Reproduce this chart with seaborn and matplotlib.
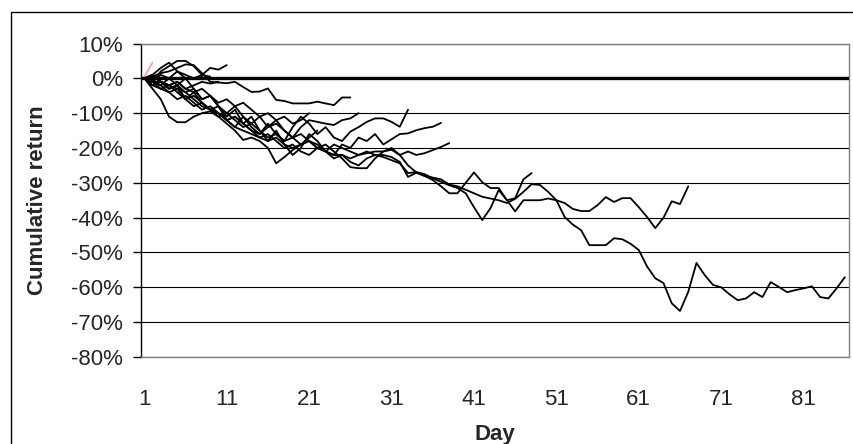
import pandas as pd
import matplotlib
matplotlib.use("Agg")
from matplotlib import pyplot as plt
from matplotlib.patches import Rectangle
from matplotlib.ticker import FuncFormatter
import seaborn as sns

# cumulative return (%) per event, one value per day starting at day 1
ret_a = [0, -1, 2, 3.5, 5, 5, 3.5, 1, 3, 2.5, 3.8]
ret_s1 = [0, -1, 1, 0, 2, 1, 0, 1, 0.5]
ret_s2 = [0, 1, -1, -2, -1, -3, -2, -1, -1.5, -1]
ret_s3 = [0, 1, 3, 4.5, 2, 0, 0, 0.5]
ret_b = [0, 0.5, 1.5, 2, 3, 4, 3.8, 1.5, -1, -1.2, -1.4, -1, -2.5, -3.9, -3.8,
         -2.9, -6.2, -6.5, -7.2, -7.2, -7.2, -6.7, -7.2, -7.7, -5.5, -5.5]
ret_i = [0, -1, -2, 0, -2, -4, -3, -6, -5, -8, -10, -8, -11, -13, -11, -14, -12,
         -15, -17, -14, -12, -12.5, -13, -13.4, -12, -11.5, -10]
ret_k = [0, -3, -6, -11, -12.6, -12.6, -11, -10, -9.5, -11, -13, -15, -17.7, -17,
         -18, -20, -24.4, -22.6, -20.6, -19, -17, -15]
ret_m = [0, 0.5, -1, -2, -1, -3, -4, -3, -5, -7, -6, -8, -7, -9, -11, -10, -12,
         -11, -13, -12, -10]
ret_c = [0, -2, -1, -3, -2, -6, -4, -7, -9, -8, -12, -14, -11, -14, -16, -13, -16,
         -18, -14, -11, -13, -16, -14, -17, -18, -15.3, -14, -12.5, -11.5, -11.5,
         -12.5, -13.9, -9]
ret_d = [0, 1, -1, -3, -2, 0, -3, -6, -5, -8, -11, -9, -13, -11, -15, -18, -15, -19,
         -22, -20, -16, -18, -21, -22, -19, -20, -17, -18, -16, -19, -17.5, -16,
         -15.8, -14.9, -14.3, -13.9, -12.8]
ret_e = [0, -2, -3, -4, -6, -5, -7, -9, -8, -10, -12, -11, -13, -15, -16, -14, -13,
         -15, -17, -16, -18, -20, -19, -21, -23, -25.5, -25.8, -25.8, -23, -21, -20,
         -22, -21, -22, -21.5, -20.6, -19.7, -18.6]
ret_f = [0, -1, -2, -4, -3, -6, -8, -7, -9, -11, -10, -12, -14, -13, -15, -17, -16,
         -18, -17, -19, -18, -20, -21, -19, -20, -21, -22, -21, -22, -22, -22.6, -24,
         -28.3, -27.1, -28, -29.2, -31, -33, -33, -30, -27, -29.8, -31.5, -31.5, -35,
         -34.4, -29, -27.2]
ret_g = [0, -1, -3, -2, -4, -6, -5, -7, -9, -10, -12, -11, -13, -15, -17, -16, -18,
         -20, -19, -21, -22, -20, -21, -23, -22, -24, -25, -23, -22, -22.6, -23.5,
         -24.4, -27.2, -26.9, -27.5, -28.7, -29.7, -30.7, -31.5, -33, -37, -40.7,
         -37.3, -32.1, -35, -38.2, -35, -35, -35, -34.5, -35, -35.8, -37.5, -38.1,
         -38.1, -36.4, -34.1, -35.5, -34.4, -34.4, -37, -39.8, -43, -40, -35.3,
         -36.1, -31]
ret_h = [0, -1, -1, -2, -3, -4, -6, -8, -9, -10, -12, -14, -15, -16, -17, -18, -17,
         -19, -20, -19, -18, -19, -21, -22, -22, -23, -22, -21.5, -21, -21, -20.5,
         -22, -25, -27, -28, -28.5, -29, -30.5, -31, -32, -33, -34, -34.5, -35,
         -35.8, -34.6, -32.6, -30.4, -30.6, -32.6, -35, -39.8, -42, -43.6, -47.9,
         -47.9, -47.9, -45.9, -46.2, -47.5, -49.3, -54, -57.4, -58.8, -64.6, -66.8,
         -61.3, -53, -56.5, -59.3, -60, -62, -63.7, -63.2, -61.4, -62.8, -58.5,
         -59.9, -61.4, -60.8, -60.3, -59.7, -62.8, -63.2, -60.3, -57.1]
ret_pink = [0.5, 4.5]

series = {"a": ret_a, "s1": ret_s1, "s2": ret_s2, "s3": ret_s3, "b": ret_b,
          "i": ret_i, "k": ret_k, "m": ret_m, "c": ret_c, "d": ret_d, "e": ret_e,
          "f": ret_f, "g": ret_g, "h": ret_h}

y_ticks = [10, 0, -10, -20, -30, -40, -50, -60, -70, -80]
x_ticks = [1, 11, 21, 31, 41, 51, 61, 71, 81]

rows = []
for name, vals in series.items():
    for day, v in enumerate(vals, start=1):
        rows.append({"event": name, "day": day, "ret": v})
df = pd.DataFrame(rows)
df_pink = pd.DataFrame({"day": range(1, len(ret_pink) + 1), "ret": ret_pink})

sns.set_style("white")
plt.rcParams["font.family"] = ["Liberation Sans", "DejaVu Sans"]
plt.rcParams["axes.unicode_minus"] = False

fig, ax = plt.subplots(figsize=(8.54, 4.44), dpi=100)
fig.subplots_adjust(left=0.1651, right=0.9941, top=0.902, bottom=0.196)

ax.yaxis.grid(True, color="black", lw=0.8)
ax.set_axisbelow(True)
ax.axhline(0, color="black", lw=2.4, zorder=3)

sns.lineplot(data=df_pink, x="day", y="ret", color="#ff99cc", lw=1.3, ax=ax)
sns.lineplot(data=df, x="day", y="ret", units="event", estimator=None,
             color="black", lw=1.3, ax=ax)

ax.set_xlim(0.6, 86.5)
ax.set_ylim(-80, 10)
ax.set_yticks(y_ticks)
ax.yaxis.set_major_formatter(FuncFormatter(lambda v, p: f"{v:.0f}%"))
ax.set_xticks(x_ticks)
ax.set_xticklabels([str(t) for t in x_ticks])

ax.tick_params(axis="y", direction="out", length=6, width=1, color="black",
               pad=7, labelsize=16, left=True)
ax.tick_params(axis="x", length=0, pad=23, labelsize=16)

for side in ["top", "right", "bottom"]:
    ax.spines[side].set_color("#808080")
    ax.spines[side].set_linewidth(1)
ax.spines["left"].set_color("black")
ax.spines["left"].set_linewidth(1)

ax.set_xlabel("Day", fontsize=16, fontweight="bold")
ax.set_ylabel("Cumulative return", fontsize=16, fontweight="bold")
ax.xaxis.label.set_va("center")
ax.yaxis.label.set_va("center")
ax.xaxis.set_label_coords(0.5, -0.246)
ax.yaxis.set_label_coords(-0.1455, 0.5)

# outer chart frame, right and bottom edges fall outside the image
fig.patches.append(Rectangle((11 / 854, -0.05), 1.1, (444 - 12) / 444 + 0.05,
                             transform=fig.transFigure, fill=False,
                             edgecolor="black", lw=1, clip_on=False))

fig.savefig("out.png", dpi=100)
plt.close()
